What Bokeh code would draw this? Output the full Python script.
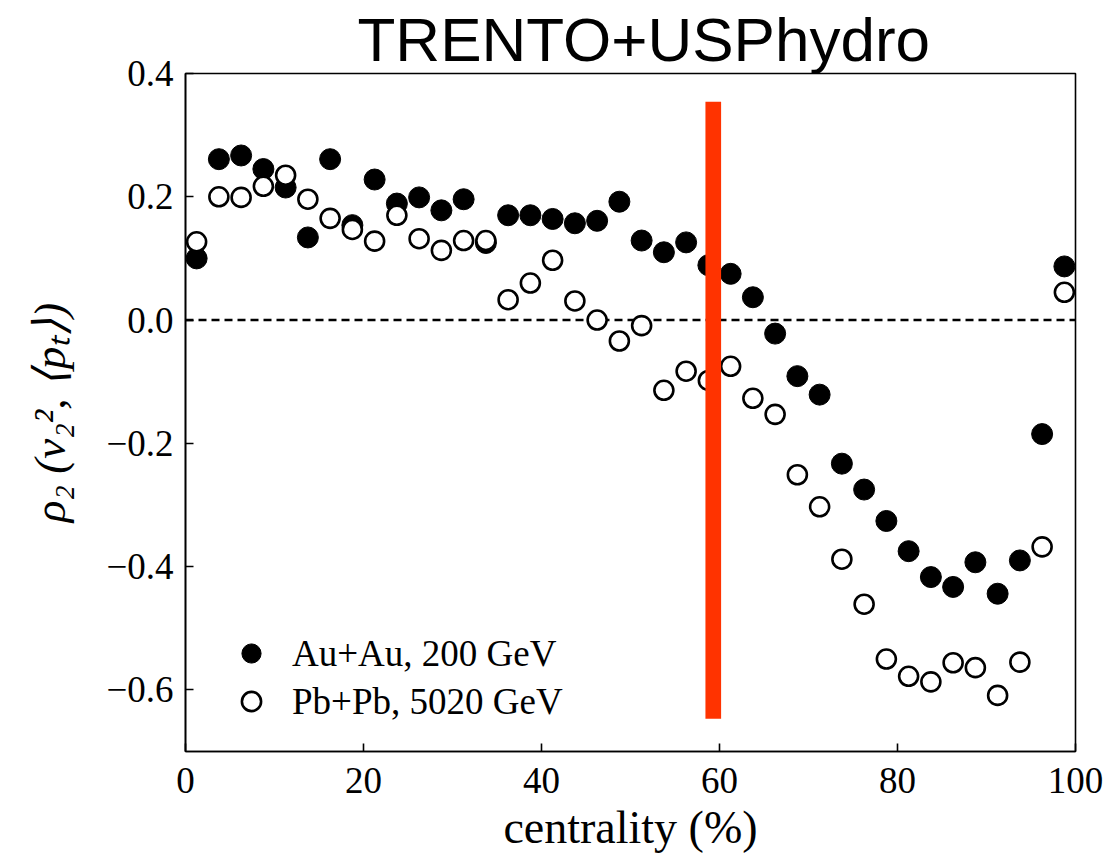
from bokeh.plotting import figure
from bokeh.models import (Range1d, FixedTicker, CustomJSTickFormatter, Span,
                          Legend, LegendItem, Title)
from bokeh.embed import file_html
from bokeh.resources import INLINE

# ---- data ----
centrality = [1.25, 3.75, 6.25, 8.75, 11.25, 13.75, 16.25, 18.75, 21.25, 23.75,
              26.25, 28.75, 31.25, 33.75, 36.25, 38.75, 41.25, 43.75, 46.25, 48.75,
              51.25, 53.75, 56.25, 58.75, 61.25, 63.75, 66.25, 68.75, 71.25, 73.75,
              76.25, 78.75, 81.25, 83.75, 86.25, 88.75, 91.25, 93.75, 96.25, 98.75]

auau_200 = [0.100, 0.261, 0.267, 0.245, 0.215, 0.134, 0.261, 0.154, 0.228, 0.189,
            0.199, 0.178, 0.196, 0.125, 0.170, 0.170, 0.164, 0.157, 0.161, 0.192,
            0.129, 0.110, 0.126, 0.089, 0.075, 0.037, -0.022, -0.091, -0.121, -0.233,
            -0.275, -0.326, -0.375, -0.417, -0.433, -0.393, -0.444, -0.390, -0.185, 0.087]

pbpb_5020 = [0.127, 0.200, 0.199, 0.217, 0.235, 0.196, 0.165, 0.147, 0.128, 0.170,
             0.132, 0.113, 0.129, 0.129, 0.033, 0.060, 0.097, 0.031, 0.000, -0.034,
             -0.009, -0.114, -0.083, -0.098, -0.075, -0.127, -0.153, -0.251, -0.303, -0.388,
             -0.461, -0.550, -0.578, -0.587, -0.556, -0.564, -0.609, -0.555, -0.368, 0.045]

x_ticks = [0, 20, 40, 60, 80, 100]
y_ticks = [-0.6, -0.4, -0.2, 0.0, 0.2, 0.4]

# red marker band
cut_center = 59.3
cut_halfwidth = 0.88
cut_bottom = -0.647
cut_top = 0.354

series_labels = ["Au+Au, 200 GeV", "Pb+Pb, 5020 GeV"]
title_text = "TRENTO+USPhydro"

# ---- figure ----
p = figure(width=1111, height=856, output_backend="svg", toolbar_location=None,
           x_range=Range1d(0, 100), y_range=Range1d(-0.7, 0.4),
           min_border_left=185, min_border_right=36, min_border_top=73,
           min_border_bottom=105)
p.background_fill_color = "white"
p.border_fill_color = "white"
p.xgrid.visible = False
p.ygrid.visible = False
p.outline_line_color = "black"
p.outline_line_width = 1.6

p.title = Title(text=title_text, text_font="Liberation Sans", text_font_size="62px",
                text_font_style="normal", align="left", offset=172, standoff=0,
                text_color="black")

serif = "Liberation Serif"
for ax in (p.xaxis[0], p.yaxis[0]):
    ax.axis_line_color = "black"
    ax.axis_line_width = 1.6
    ax.major_tick_line_color = "black"
    ax.major_tick_line_width = 1.6
    ax.major_tick_in = 8
    ax.major_tick_out = 0
    ax.minor_tick_line_color = None
    ax.major_label_text_font = serif
    ax.major_label_text_font_size = "37px"
    ax.major_label_text_color = "black"
    ax.major_label_standoff = 12
    ax.axis_label_text_font = serif
    ax.axis_label_text_color = "black"

p.xaxis.major_label_standoff = 16
p.xaxis.ticker = FixedTicker(ticks=x_ticks)
p.yaxis.ticker = FixedTicker(ticks=y_ticks)
p.yaxis.formatter = CustomJSTickFormatter(
    code="return tick < 0 ? '\\u2212' + Math.abs(tick).toFixed(1) : tick.toFixed(1);")

p.xaxis.axis_label = "centrality (%)"
p.xaxis.axis_label_text_font_size = "46px"
p.xaxis.axis_label_text_font_style = "normal"
p.xaxis.axis_label_standoff = 6

p.yaxis.axis_label = "ρ₂ (v₂², ⟨pₜ⟩)"
p.yaxis.axis_label_text_font_size = "45px"
p.yaxis.axis_label_text_font_style = "italic"
p.yaxis.axis_label_standoff = 28

zero = Span(location=0, dimension="width", line_color="black", line_width=2.4,
            line_dash="8 5", level="underlay")
p.add_layout(zero)

r_au = p.scatter(centrality, auau_200, marker="circle", size=21,
                 fill_color="black", line_color="black", line_width=1)
r_pb = p.scatter(centrality, pbpb_5020, marker="circle", size=19,
                 fill_color="white", line_color="black", line_width=2.6)

p.quad(left=[cut_center - cut_halfwidth], right=[cut_center + cut_halfwidth],
       bottom=[cut_bottom], top=[cut_top], fill_color="#ff3300", line_color=None)

legend = Legend(items=[LegendItem(label=series_labels[0], renderers=[r_au]),
                       LegendItem(label=series_labels[1], renderers=[r_pb])],
                location=(42, 26), glyph_width=48, glyph_height=48,
                label_height=48, label_standoff=17, spacing=0, padding=0,
                margin=0, border_line_color=None, background_fill_alpha=0,
                label_text_font=serif, label_text_font_size="37px",
                label_text_color="black")
p.add_layout(legend)

open("out.html", "w").write(file_html(p, INLINE))
